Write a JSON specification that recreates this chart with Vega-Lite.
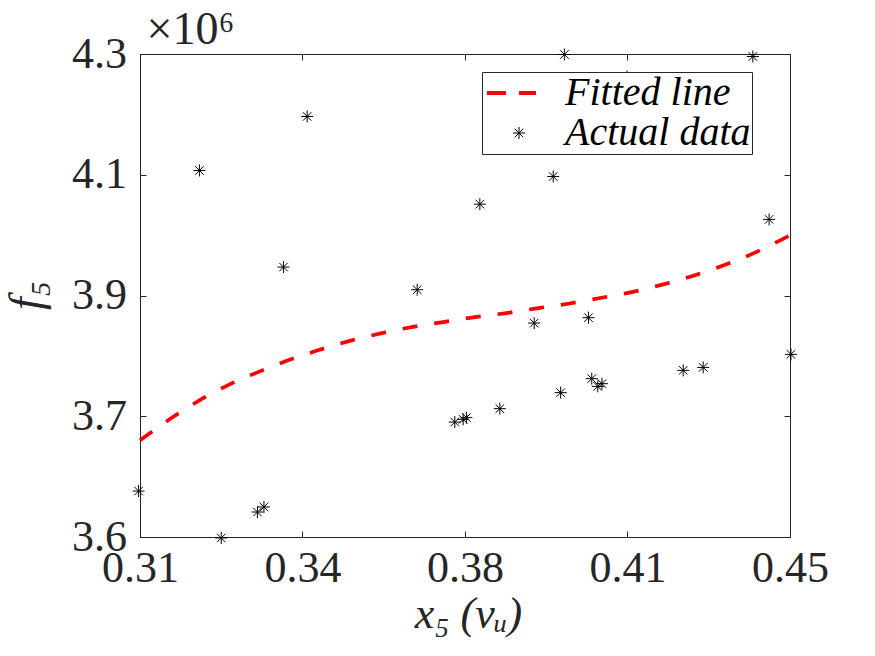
{
  "$schema": "https://vega.github.io/schema/vega-lite/v6.json",
  "description": "Fitted line vs actual data, f5 against x5",
  "width": 650,
  "height": 483,
  "autosize": {"type": "none"},
  "padding": {"left": 140, "top": 54, "right": 85, "bottom": 119},
  "background": "white",
  "datasets": {
    "fit": [
      {"x5": 0.3100, "f5": 3700100},
      {"x5": 0.3171, "f5": 3733800},
      {"x5": 0.3228, "f5": 3758000},
      {"x5": 0.3289, "f5": 3779800},
      {"x5": 0.3354, "f5": 3799000},
      {"x5": 0.3419, "f5": 3816000},
      {"x5": 0.3483, "f5": 3830500},
      {"x5": 0.3548, "f5": 3843500},
      {"x5": 0.3616, "f5": 3854700},
      {"x5": 0.3685, "f5": 3864200},
      {"x5": 0.3753, "f5": 3871500},
      {"x5": 0.3810, "f5": 3877600},
      {"x5": 0.3889, "f5": 3884500},
      {"x5": 0.3958, "f5": 3891800},
      {"x5": 0.4022, "f5": 3898100},
      {"x5": 0.4094, "f5": 3906800},
      {"x5": 0.4159, "f5": 3914900},
      {"x5": 0.4227, "f5": 3926100},
      {"x5": 0.4292, "f5": 3938700},
      {"x5": 0.4356, "f5": 3953600},
      {"x5": 0.4422, "f5": 3971400},
      {"x5": 0.4486, "f5": 3992300},
      {"x5": 0.4500, "f5": 3997100}
    ],
    "actual": [
      {"x5": 0.3097, "f5": 3626600, "series": "Actual data"},
      {"x5": 0.3228, "f5": 4091200, "series": "Actual data"},
      {"x5": 0.3460, "f5": 4169500, "series": "Actual data"},
      {"x5": 0.3409, "f5": 3951200, "series": "Actual data"},
      {"x5": 0.3275, "f5": 3558600, "series": "Actual data"},
      {"x5": 0.3353, "f5": 3596200, "series": "Actual data"},
      {"x5": 0.3367, "f5": 3603500, "series": "Actual data"},
      {"x5": 0.3697, "f5": 3918400, "series": "Actual data"},
      {"x5": 0.3778, "f5": 3726600, "series": "Actual data"},
      {"x5": 0.3796, "f5": 3730500, "series": "Actual data"},
      {"x5": 0.3803, "f5": 3733000, "series": "Actual data"},
      {"x5": 0.3875, "f5": 3746000, "series": "Actual data"},
      {"x5": 0.4006, "f5": 3769200, "series": "Actual data"},
      {"x5": 0.4073, "f5": 3789500, "series": "Actual data"},
      {"x5": 0.4086, "f5": 3778300, "series": "Actual data"},
      {"x5": 0.4095, "f5": 3782200, "series": "Actual data"},
      {"x5": 0.4270, "f5": 3801500, "series": "Actual data"},
      {"x5": 0.4313, "f5": 3805800, "series": "Actual data"},
      {"x5": 0.4502, "f5": 3824700, "series": "Actual data"},
      {"x5": 0.4066, "f5": 3877800, "series": "Actual data"},
      {"x5": 0.3949, "f5": 3870000, "series": "Actual data"},
      {"x5": 0.4455, "f5": 4020300, "series": "Actual data"},
      {"x5": 0.3832, "f5": 4042400, "series": "Actual data"},
      {"x5": 0.3990, "f5": 4082500, "series": "Actual data"},
      {"x5": 0.4014, "f5": 4259300, "series": "Actual data"},
      {"x5": 0.4420, "f5": 4256400, "series": "Actual data"},
      {"x5": 0.4149, "f5": 4227400, "series": "Actual data"}
    ]
  },
  "layer": [
    {
      "data": {"name": "fit"},
      "mark": {
        "type": "line",
        "color": "#ff0000",
        "strokeWidth": 3.7,
        "strokeDash": [15, 17],
        "interpolate": "monotone"
      },
      "encoding": {
        "x": {
          "field": "x5",
          "type": "quantitative",
          "scale": {"domain": [0.31, 0.45], "nice": false, "zero": false},
          "axis": {
            "orient": "bottom",
            "values": [0.31, 0.345, 0.38, 0.415, 0.45],
            "format": ".2f",
            "labelPadding": 15,
            "title": "x₅ (νᵤ)",
            "titleX": 328,
            "titleY": 90,
            "titleBaseline": "alphabetic"
          }
        },
        "y": {
          "field": "f5",
          "type": "quantitative",
          "scale": {"domain": [3560000, 4260000], "nice": false, "zero": false},
          "axis": {
            "orient": "left",
            "values": [3560000, 3735000, 3910000, 4085000, 4260000],
            "labelExpr": "format(datum.value / 1000000, '.1f')",
            "labelPadding": 19.5,
            "title": "f₅",
            "titleAngle": -90,
            "titleFontSize": 46,
            "titleX": -100,
            "titleY": 241,
            "titleBaseline": "alphabetic"
          }
        }
      }
    },
    {
      "data": {"name": "actual"},
      "mark": {"type": "point", "filled": false, "size": 144, "opacity": 1},
      "encoding": {
        "x": {
          "field": "x5",
          "type": "quantitative",
          "axis": {
            "orient": "top",
            "values": [0.31, 0.345, 0.38, 0.415, 0.45],
            "labels": false,
            "title": "×10⁶",
            "titleFontStyle": "normal",
            "titleFontSize": 46,
            "titleAngle": 0,
            "titleAlign": "left",
            "titleBaseline": "alphabetic",
            "titleX": 6,
            "titleY": -11
          }
        },
        "y": {
          "field": "f5",
          "type": "quantitative",
          "axis": {
            "orient": "right",
            "values": [3560000, 3735000, 3910000, 4085000, 4260000],
            "labels": false,
            "title": null
          }
        },
        "shape": {
          "field": "series",
          "type": "nominal",
          "scale": {
            "domain": ["Fitted line", "Actual data"],
            "range": [
              "M-5.33,0L-2.17,0M0,0L2.83,0",
              "M-1,0L1,0M0,-1L0,1M-0.71,-0.71L0.71,0.71M-0.71,0.71L0.71,-0.71"
            ]
          },
          "legend": {"title": null}
        },
        "color": {
          "field": "series",
          "type": "nominal",
          "scale": {"domain": ["Fitted line", "Actual data"], "range": ["#ff0000", "#000000"]},
          "legend": {"title": null}
        },
        "strokeWidth": {
          "field": "series",
          "type": "nominal",
          "scale": {"domain": ["Fitted line", "Actual data"], "range": [4, 1]},
          "legend": {"title": null}
        }
      }
    }
  ],
  "resolve": {"axis": {"x": "independent", "y": "independent"}},
  "config": {
    "view": {"stroke": "#262626", "strokeWidth": 1},
    "axis": {
      "grid": false,
      "domainColor": "#262626",
      "tickColor": "#262626",
      "tickSize": -6,
      "labelFont": "Liberation Serif",
      "labelFontSize": 44,
      "labelColor": "#262626",
      "labelFlush": false,
      "labelOverlap": false,
      "titleFont": "Liberation Serif",
      "titleFontSize": 44,
      "titleFontStyle": "italic",
      "titleFontWeight": "normal",
      "titleColor": "#262626"
    },
    "legend": {
      "orient": "none",
      "legendX": 342,
      "legendY": 18,
      "fillColor": "white",
      "strokeColor": "#262626",
      "padding": 1,
      "symbolOffset": 16,
      "labelOffset": 26,
      "symbolSize": 144,
      "symbolOpacity": 1,
      "rowPadding": 0,
      "labelFont": "Liberation Serif",
      "labelFontSize": 40,
      "labelFontStyle": "italic",
      "labelColor": "#000000",
      "labelLimit": 400
    }
  }
}
